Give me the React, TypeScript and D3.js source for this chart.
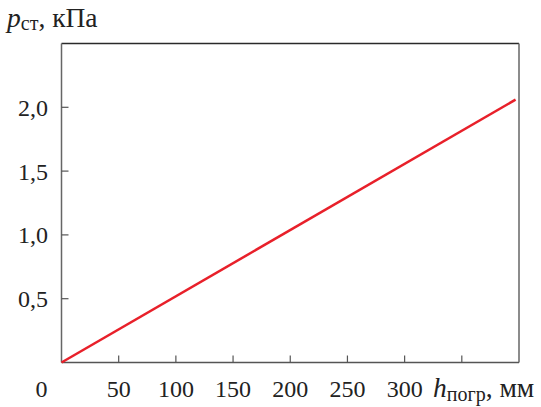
import React from 'react';
import {scaleLinear, line} from 'd3';

// chart values
const xTicks = [50, 100, 150, 200, 250, 300, 350];
const xLabels = [50, 100, 150, 200, 250, 300]; // 350 is covered by the axis title
const yTicks = [0.5, 1.0, 1.5, 2.0];
const depth = [0, 397];      // h, mm
const pressure = [0, 2.06];  // p, kPa

const font = 'Liberation Serif';

const margin = {l: 61.5, r: 22, t: 43.5, b: 44.5};
const W = 541, H = 407;

const scaleX = scaleLinear().domain([0, 400]).range([margin.l, W - margin.r]);
const scaleY = scaleLinear().domain([0, 2.5]).range([H - margin.b, margin.t]);

const lineGen = line<number>()
	.x((d, i) => scaleX(depth[i]))
	.y(d => scaleY(d));

const fmt = (v: number) => v.toFixed(1).replace('.', ',');

const txt = {fontFamily: font, fontSize: '24px', fill: '#222'};
const title = {fontFamily: font, fontSize: '27.5px', fill: '#222'};

export default function App() {
	const x0 = scaleX(0), x1 = scaleX(400);
	const y0 = scaleY(0), y1 = scaleY(2.5);
	return (
		<svg width={W} height={H} style={{position: 'absolute', left: 0, top: 0}}>
			<rect x={0} y={0} width={W} height={H} fill='#fff'/>
			{/* frame */}
			<line x1={x0} x2={x1} y1={y1} y2={y1} stroke='#2a2a2a' strokeWidth={1.5}/>
			<line x1={x1} x2={x1} y1={y1} y2={y0} stroke='#666' strokeWidth={1.5}/>
			<line x1={x0} x2={x0} y1={y1} y2={y0} stroke='#666' strokeWidth={1.5}/>
			<line x1={x0} x2={x1} y1={y0} y2={y0} stroke='#555' strokeWidth={1.5}/>
			{/* x ticks */}
			{xTicks.map(t =>
				<line key={'xt' + t} x1={scaleX(t)} x2={scaleX(t)} y1={y0} y2={y0 - 7} stroke='#555' strokeWidth={1.2}/>
			)}
			{xLabels.map(t =>
				<text key={'xl' + t} x={scaleX(t)} y={397} textAnchor='middle' style={txt}>{t}</text>
			)}
			<text x={41.5} y={397} textAnchor='middle' style={txt}>0</text>
			{/* y ticks */}
			{yTicks.map(t =>
				<g key={'y' + t}>
					<line x1={x0} x2={x0 + 7} y1={scaleY(t)} y2={scaleY(t)} stroke='#555' strokeWidth={1.2}/>
					<text x={48} y={scaleY(t)} dy={8.5} textAnchor='end' style={txt}>{fmt(t)}</text>
				</g>
			)}
			{/* series */}
			<path d={lineGen(pressure) || ''} fill='none' stroke='#e8202a' strokeWidth={2.5}/>
			{/* axis titles */}
			<text x={7} y={27} style={title}>
				<tspan fontStyle='italic'>p</tspan>
				<tspan fontSize={20} dy={3}>ст</tspan>
				<tspan dy={-3}>, кПа</tspan>
			</text>
			<text x={433} y={397} style={title}>
				<tspan fontStyle='italic'>h</tspan>
				<tspan fontSize={20} dy={4}>погр</tspan>
				<tspan dy={-4}>, мм</tspan>
			</text>
		</svg>
	);
}
